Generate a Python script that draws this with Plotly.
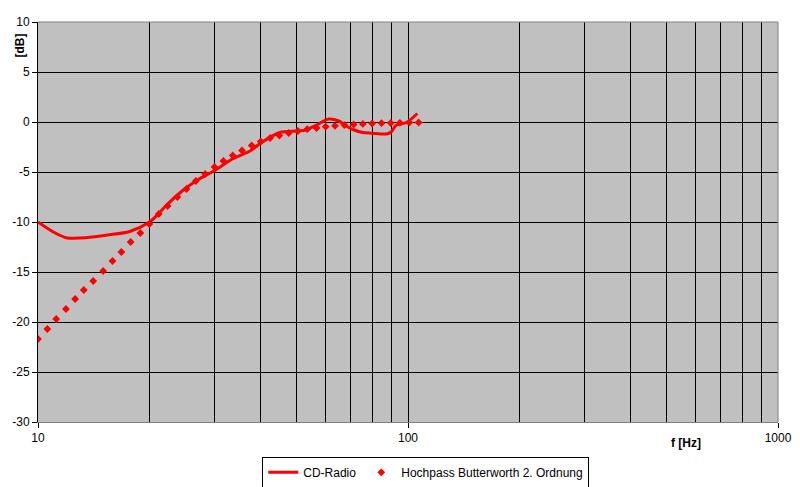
import plotly.graph_objects as go

# CD-Radio measured response (Hz, dB)
cd_freq = [10, 11, 12, 13, 14, 15.4, 17.7, 20, 21, 22, 24.7, 27, 30, 33.5, 37.4, 40,
           45, 50, 53, 56.6, 61, 65, 68, 71, 75.5, 80, 87.5, 90, 93, 99, 106]
cd_db = [-10.0, -11.0, -11.6, -11.6, -11.5, -11.3, -10.95, -10.0, -9.3, -8.5, -6.8, -5.8,
         -4.85, -3.7, -2.9, -2.1, -1.05, -0.9, -0.8, -0.3, 0.3, 0.1, -0.4, -0.75, -1.05,
         -1.12, -1.2, -1.0, -0.3, -0.05, 0.85]

# Hochpass Butterworth 2. Ordnung (Hz, dB)
bw_freq = [10, 10.6, 11.2, 11.9, 12.6, 13.3, 14.1, 15.0, 15.9, 16.8, 17.8, 18.9, 20, 21.2,
           22.4, 23.8, 25.2, 26.7, 28.3, 30, 31.7, 33.6, 35.6, 37.8, 40, 42.4, 44.9, 47.6,
           50.4, 53.4, 56.6, 59.9, 63.5, 67.3, 71.3, 75.5, 80, 84.8, 89.8, 95.1, 100.8, 106.8]
bw_db = [-21.7, -20.7, -19.7, -18.7, -17.7, -16.8, -15.9, -14.9, -13.9, -13.0, -12.0, -11.1,
         -10.2, -9.2, -8.4, -7.5, -6.7, -5.9, -5.2, -4.5, -3.9, -3.35, -2.85, -2.35, -1.95,
         -1.6, -1.35, -1.1, -0.9, -0.72, -0.6, -0.47, -0.38, -0.3, -0.24, -0.19, -0.15,
         -0.12, -0.1, -0.08, -0.06, -0.05]

y_ticks = [10, 5, 0, -5, -10, -15, -20, -25, -30]
y_ticktext = ["10", "5", "0", "-5", "-10", "-15", "-20", "-25", "-30"]
x_ticks = [10, 100, 1000]
x_ticktext = ["10", "100", "1000"]
x_minor = [20, 30, 40, 50, 60, 70, 80, 90, 200, 300, 400, 500, 600, 700, 800, 900]

FONT = "Liberation Sans, Arial, sans-serif"

fig = go.Figure()
fig.add_trace(go.Scatter(
    x=cd_freq, y=cd_db, mode="lines", name="CD-Radio",
    line=dict(color="#FF0000", width=3, shape="spline", smoothing=0.8),
))
fig.add_trace(go.Scatter(
    x=bw_freq, y=bw_db, mode="markers", name="Hochpass Butterworth 2. Ordnung",
    marker=dict(color="#FF0000", size=6, symbol="diamond", line=dict(width=0)),
))

fig.update_layout(
    width=800, height=487,
    margin=dict(l=38, r=22, t=22, b=65, autoexpand=False),
    paper_bgcolor="white",
    plot_bgcolor="#C0C0C0",
    font=dict(family=FONT, size=12, color="black"),
    showlegend=True,
    legend=dict(
        orientation="h", x=0.524, xanchor="center", y=-0.087, yanchor="top",
        bgcolor="white", bordercolor="black", borderwidth=1,
        font=dict(family=FONT, size=12, color="black"),
        itemwidth=30,
    ),
    xaxis=dict(
        type="log", range=[1, 3], automargin=False,
        tickmode="array", tickvals=x_ticks, ticktext=x_ticktext,
        ticks="outside", ticklen=5, tickcolor="black",
        showgrid=True, gridcolor="black", gridwidth=1,
        minor=dict(tickmode="array", tickvals=x_minor, showgrid=True,
                   gridcolor="black", gridwidth=1, ticks=""),
        showline=True, linecolor="#808080", linewidth=1,
        zeroline=False, fixedrange=True,
    ),
    yaxis=dict(
        range=[-30, 10], automargin=False,
        tickmode="array", tickvals=y_ticks, ticktext=y_ticktext,
        ticks="outside", ticklen=5, tickcolor="black",
        showgrid=True, gridcolor="black", gridwidth=1,
        showline=True, linecolor="black", linewidth=1,
        zeroline=False, fixedrange=True,
    ),
    annotations=[
        dict(text="<b>[dB]</b>", xref="paper", yref="paper", x=-0.025, y=0.94,
             xanchor="center", yanchor="middle", textangle=-90, showarrow=False,
             font=dict(family=FONT, size=12)),
        dict(text="<b>f [Hz]</b>", xref="paper", yref="paper", x=0.875, y=-0.053,
             xanchor="center", yanchor="middle", showarrow=False,
             font=dict(family=FONT, size=12)),
    ],
    shapes=[
        dict(type="line", xref="paper", yref="paper", x0=1, x1=1, y0=0, y1=1,
             line=dict(color="#808080", width=1)),
        dict(type="line", xref="paper", yref="paper", x0=0, x1=1, y0=1, y1=1,
             line=dict(color="#808080", width=1)),
    ],
)

fig.write_html("out.html", config={"displayModeBar": False},
               post_script="document.body.style.margin='0';")
